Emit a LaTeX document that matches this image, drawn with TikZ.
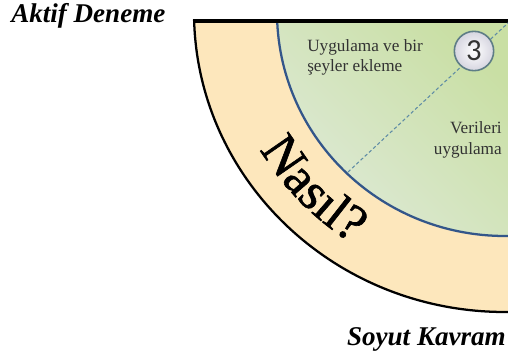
\documentclass[tikz,border=0pt]{standalone}
\usepackage{fontspec}
\setmainfont{Liberation Serif}
\newfontfamily\numfont{Carlito}
\newfontfamily\ringfont[FakeBold=1.2]{Liberation Serif}
\usetikzlibrary{decorations.text}

\definecolor{ringfill}{HTML}{FDE7BC}
\definecolor{coreA}{HTML}{DFEADA}
\definecolor{coreB}{HTML}{C9DFA4}
\definecolor{coreline}{HTML}{33568A}
\definecolor{dashcol}{HTML}{5F8CA5}
\definecolor{badgeline}{HTML}{5E7D86}
\definecolor{badgefill}{HTML}{D6D5E0}
\definecolor{inktext}{HTML}{333333}

\tikzset{
  titletext/.style={inner sep=0pt, font=\bfseries\itshape\fontsize{20.3pt}{22pt}\selectfont},
  bodytext/.style={inner sep=0pt, text=inktext, font=\fontsize{12.9pt}{15pt}\selectfont},
  outerline/.style={draw=black, line width=1.7pt},
  innerline/.style={draw=coreline, line width=1.7pt},
  topline/.style={draw=black, line width=3.6pt},
  dashline/.style={draw=dashcol, line width=0.8pt, dash pattern=on 2.5pt off 1.8pt},
  badge/.style={circle, minimum size=29.5pt, inner sep=0pt, draw=badgeline, line width=1.2pt,
    inner color=white, outer color=badgefill, text=inktext,
    font=\numfont\fontsize{23pt}{23pt}\selectfont}
}

\begin{document}
\begin{tikzpicture}[x=0.75pt, y=0.75pt]
\useasboundingbox (0,0) rectangle (508,358);

% quarter disc: peach ring around a green core
\begin{scope}
  \clip (0,0) rectangle (508,337);
  \fill[ringfill] (505,346) ellipse [x radius=311, y radius=300];
  \begin{scope}
    \clip (505,346) ellipse [x radius=228, y radius=224];
    \shade[top color=coreA, bottom color=coreB, shading angle=135] (270,110) rectangle (512,342);
  \end{scope}
  \path[innerline] (505,346) ellipse [x radius=228, y radius=224];
  \path[outerline] (505,346) ellipse [x radius=311, y radius=300];
\end{scope}
\draw[topline] (192.6,337) -- (508,337);

% ring label set along the arc
\path[decorate, decoration={text along path,
    text={|\ringfont\fontsize{39pt}{40pt}\selectfont|Nasıl?}}]
  (259.9,208.5) arc [start angle=210, end angle=262, x radius=283, y radius=275];

% dashed divider and step badge
\coordinate (rim) at (348,186);
\coordinate (corner) at (508,335);
\draw[dashline] (rim) -- (corner);
\node[badge] (three) at (474,307) {3};

% texts inside the core
\node[bodytext, anchor=base west] (uyg1) at (307,306) {Uygulama ve bir};
\node[bodytext, anchor=base west] (uyg2) at (307,286.5) {şeyler ekleme};
\node[bodytext, anchor=base east] (ver1) at (502,224) {Verileri};
\node[bodytext, anchor=base east] (ver2) at (502,204) {uygulama};

% axis captions
\node[titletext, anchor=base west] (aktif) at (11,335) {Aktif Deneme};
\node[titletext, anchor=base east] (soyut) at (506,13) {Soyut Kavram};
\end{tikzpicture}
\end{document}
